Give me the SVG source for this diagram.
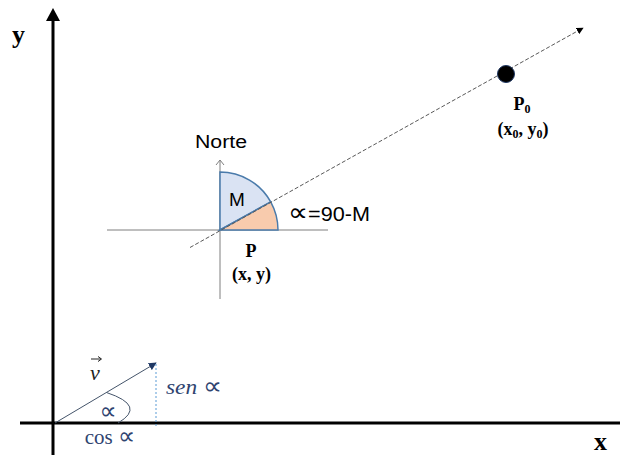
<svg xmlns="http://www.w3.org/2000/svg" width="620" height="455" viewBox="0 0 620 455">
<defs>
<style>
.axis{stroke:#000;stroke-width:3;fill:none}
.thin{stroke:#7f7f7f;stroke-width:1;fill:none}
.dash{stroke:#595959;stroke-width:1;stroke-dasharray:4 2;fill:none}
.vec{stroke:#44546a;stroke-width:1;fill:none}
.lbl{font-family:"Liberation Serif","Times New Roman",serif;font-weight:bold;fill:#000}
.sans{font-family:"Liberation Sans",Arial,"DejaVu Sans",sans-serif;fill:#000}
.math{font-family:"Liberation Serif","DejaVu Serif",serif;fill:#2f4470}
.prop{font-family:"DejaVu Sans","Liberation Sans",sans-serif}
.sector{stroke:#4a7bab;stroke-width:1.5}
</style>
<marker id="ah" viewBox="0 0 10 10" refX="9" refY="5" markerWidth="7" markerHeight="7" orient="auto" markerUnits="userSpaceOnUse">
<path d="M0,0 L10,5 L0,10 Z" fill="#000"/>
</marker>
<marker id="ahv" viewBox="0 0 10 10" refX="9" refY="5" markerWidth="8" markerHeight="8" orient="auto" markerUnits="userSpaceOnUse">
<path d="M0,0 L10,5 L0,10 Z" fill="#1f3864"/>
</marker>
</defs>

<g id="axes">
<line class="axis" x1="53" y1="455" x2="53" y2="20"/>
<path d="M46,21 L53,8 L60,21 Z" fill="#000"/>
<line class="axis" x1="20" y1="423" x2="620" y2="423"/>
<text class="lbl" x="12" y="43" font-size="26">y</text>
<text class="lbl" x="594" y="450" font-size="26">x</text>
</g>

<g id="local-axes">
<line class="thin" x1="107" y1="230" x2="328" y2="230"/>
<line class="thin" x1="220" y1="299" x2="220" y2="160"/>
<path class="thin" d="M216,165 L220,160 L224,165"/>
<text class="sans" x="195" y="148" font-size="18" textLength="52" lengthAdjust="spacingAndGlyphs">Norte</text>
</g>

<g id="sectors">
<path class="sector" d="M220,230 L220,172 A58,58 0 0 1 270.7,201.9 Z" fill="#dae3f3"/>
<path class="sector" d="M220,230 L270.7,201.9 A58,58 0 0 1 278,230 Z" fill="#f8cbad"/>
<text class="sans" x="229" y="206" font-size="19">M</text>
<text class="sans" x="288" y="221" font-size="20" textLength="82" lengthAdjust="spacingAndGlyphs"><tspan class="prop" font-size="26">∝</tspan>=90-M</text>
</g>

<g id="connectors">
<line class="dash" x1="190" y1="247.5" x2="583" y2="28" marker-end="url(#ah)"/>
<line class="vec" x1="55" y1="423" x2="156" y2="363" marker-end="url(#ahv)"/>
<line x1="156" y1="364" x2="156" y2="428" stroke="#5b9bd5" stroke-width="1" stroke-dasharray="2 2"/>
<path d="M106.5,392.5 Q147,406 118,423" stroke="#44546a" stroke-width="1" fill="none"/>
</g>

<g id="P">
<text class="lbl" x="251" y="257" font-size="18" text-anchor="middle">P</text>
<text class="lbl" x="251.5" y="280" font-size="18" text-anchor="middle">(x, y)</text>
</g>

<g id="P0">
<circle cx="506" cy="74" r="8.5" fill="#000" stroke="#1f3864" stroke-width="1"/>
<text class="lbl" x="522" y="110" font-size="18" text-anchor="middle">P<tspan font-size="12" dy="3">0</tspan></text>
<text class="lbl" x="523" y="135" font-size="18" text-anchor="middle">(x<tspan font-size="12" dy="3">0</tspan><tspan dy="-3">, y</tspan><tspan font-size="12" dy="3">0</tspan><tspan dy="-3">)</tspan></text>
</g>

<g id="vector-labels">
<text x="90" y="380" font-size="22" font-style="italic" font-family="Liberation Serif, serif" fill="#222">v</text>
<line x1="91" y1="359" x2="101" y2="359" stroke="#222" stroke-width="1"/>
<path d="M98,356.5 L101.5,359 L98,361.5" stroke="#222" stroke-width="1" fill="none"/>
<text class="math prop" x="108" y="419" font-size="24" text-anchor="middle">∝</text>
<text class="math" x="110" y="444" font-size="21" text-anchor="middle">cos <tspan class="prop" font-size="24">∝</tspan></text>
<text class="math" x="166" y="394" font-size="21" font-style="italic" textLength="56" lengthAdjust="spacingAndGlyphs">sen <tspan class="prop" font-size="24" font-style="normal">∝</tspan></text>
</g>
</svg>
